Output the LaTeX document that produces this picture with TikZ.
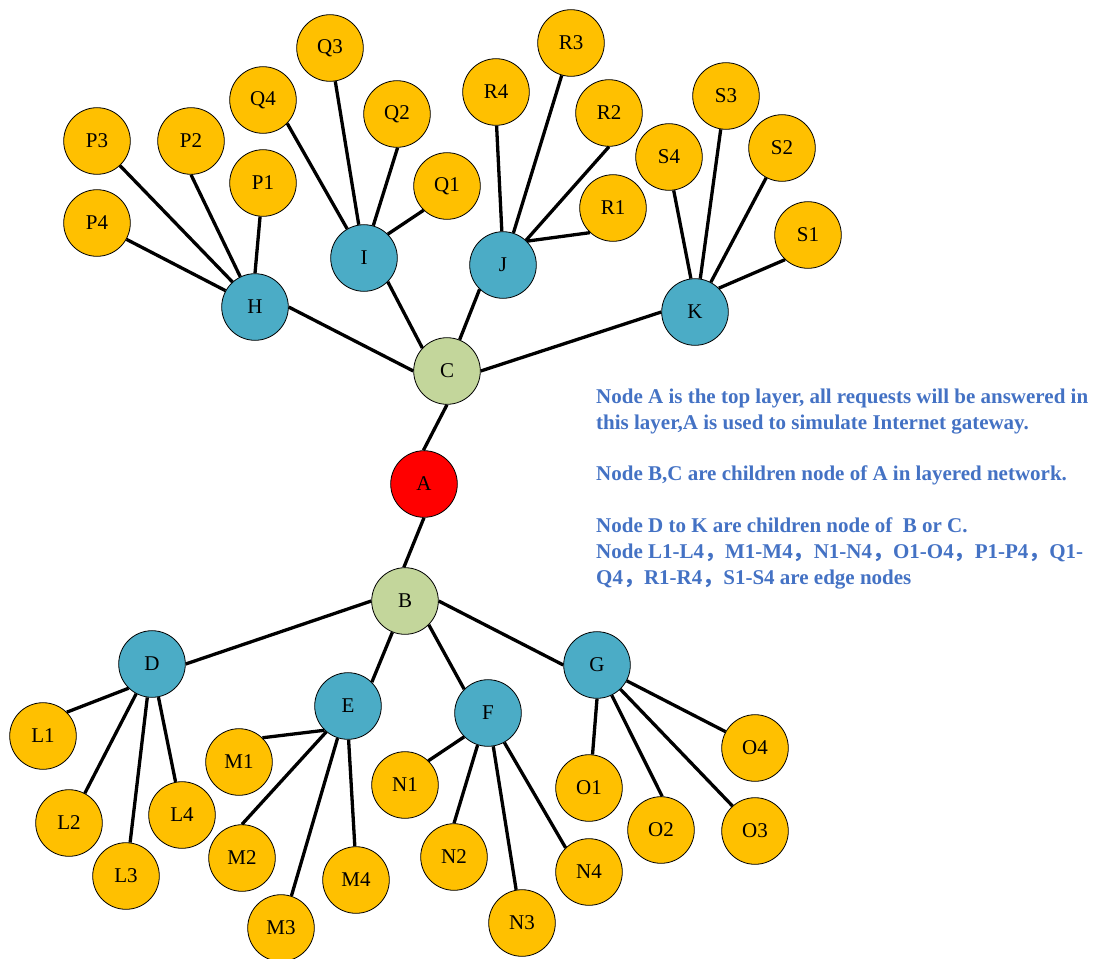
\documentclass[tikz,border=0pt]{standalone}
\usepackage{fontspec}
\setmainfont{Liberation Serif}
\newfontfamily\cjkfont{Noto Sans CJK SC}
\definecolor{leafc}{HTML}{FFC000}
\definecolor{midc}{HTML}{4BACC6}
\definecolor{hubc}{HTML}{C3D69B}
\definecolor{rootc}{HTML}{FF0000}
\definecolor{textc}{HTML}{4472C4}
\newcommand{\fwc}{{\cjkfont ，}}
\begin{document}
\begin{tikzpicture}[x=1pt,y=-1pt,
  nd/.style={circle, draw=black, line width=0.8pt, minimum size=66.6pt, inner sep=0pt, font=\fontsize{21}{25}\selectfont},
  leaf/.style={nd, fill=leafc},
  mid/.style={nd, fill=midc},
  hub/.style={nd, fill=hubc},
  root/.style={nd, fill=rootc},
  edge/.style={line width=3.3pt, draw=black},
  note/.style={anchor=base west, inner sep=0pt, text=textc, font=\fontsize{21}{26}\selectfont\bfseries}]
\useasboundingbox (0,0) rectangle (1099,958);

% core
\node[root] (A) at (424,484) {A};
\node[hub]  (B) at (405,601) {B};
\node[hub]  (C) at (447,371) {C};
% middle layer
\node[mid] (D) at (152,664) {D};
\node[mid] (E) at (348,706) {E};
\node[mid] (F) at (488,713) {F};
\node[mid] (G) at (597,665) {G};
\node[mid] (H) at (255,307) {H};
\node[mid] (I) at (364,258) {I};
\node[mid] (J) at (503,265) {J};
\node[mid] (K) at (695,312) {K};
% leaves
\node[leaf] (L1) at (43,736) {L1};
\node[leaf] (L2) at (69,823) {L2};
\node[leaf] (L3) at (126,876) {L3};
\node[leaf] (L4) at (182,815) {L4};
\node[leaf] (M1) at (239,762) {M1};
\node[leaf] (M2) at (242,858) {M2};
\node[leaf] (M3) at (281,928) {M3};
\node[leaf] (M4) at (356,880) {M4};
\node[leaf] (N1) at (405,785) {N1};
\node[leaf] (N2) at (454,857) {N2};
\node[leaf] (N3) at (522,923) {N3};
\node[leaf] (N4) at (589,872) {N4};
\node[leaf] (O1) at (589,788) {O1};
\node[leaf] (O2) at (661,830) {O2};
\node[leaf] (O3) at (755,831) {O3};
\node[leaf] (O4) at (755,748) {O4};
\node[leaf] (P1) at (263,183) {P1};
\node[leaf] (P2) at (191,141) {P2};
\node[leaf] (P3) at (97,141) {P3};
\node[leaf] (P4) at (97,223) {P4};
\node[leaf] (Q1) at (447,186) {Q1};
\node[leaf] (Q2) at (397,114) {Q2};
\node[leaf] (Q3) at (330,48) {Q3};
\node[leaf] (Q4) at (263,100) {Q4};
\node[leaf] (R1) at (613,208) {R1};
\node[leaf] (R2) at (609,113) {R2};
\node[leaf] (R3) at (571,43) {R3};
\node[leaf] (R4) at (496,92) {R4};
\node[leaf] (S1) at (808,235) {S1};
\node[leaf] (S2) at (782,148) {S2};
\node[leaf] (S3) at (726,96) {S3};
\node[leaf] (S4) at (669,157) {S4};

% edges
\draw[edge] (C.270) -- (A.91);
\draw[edge] (A.270) -- (B.92);
\draw[edge] (B.180) -- (D.0);
\draw[edge] (B.248) -- (E.45);
\draw[edge] (B.315) -- (F.135);
\draw[edge] (B.0) -- (G.180);
\draw[edge] (C.180) -- (H.0);
\draw[edge] (C.137) -- (I.315);
\draw[edge] (C.68) -- (J.226);
\draw[edge] (C.0) -- (K.180);
\draw[edge] (D.226) -- (L1.45);
\draw[edge] (D.242) -- (L2.62);
\draw[edge] (D.262) -- (L3.83);
\draw[edge] (D.281) -- (L4.101);
\draw[edge] (E.226) -- (M1.46);
\draw[edge] (E.230) -- (M2.90);
\draw[edge] (E.252) -- (M3.72);
\draw[edge] (E.271) -- (M4.92);
\draw[edge] (F.225) -- (N1.46);
\draw[edge] (F.252) -- (N2.90);
\draw[edge] (F.279) -- (N3.100);
\draw[edge] (F.299) -- (N4.134);
\draw[edge] (G.270) -- (O1.84);
\draw[edge] (G.296) -- (O2.88);
\draw[edge] (G.314) -- (O3.132);
\draw[edge] (G.332) -- (O4.151);
\draw[edge] (H.90) -- (P1.265);
\draw[edge] (H.116) -- (P2.270);
\draw[edge] (H.132) -- (P3.313);
\draw[edge] (H.151) -- (P4.331);
\draw[edge] (I.45) -- (Q1.226);
\draw[edge] (I.74) -- (Q2.271);
\draw[edge] (I.99) -- (Q3.279);
\draw[edge] (I.120) -- (Q4.316);
\draw[edge] (J.45) -- (R1.227);
\draw[edge] (J.47) -- (R2.270);
\draw[edge] (J.72) -- (R3.254);
\draw[edge] (J.92) -- (R4.271);
\draw[edge] (K.45) -- (S1.227);
\draw[edge] (K.62) -- (S2.242);
\draw[edge] (K.81) -- (S3.261);
\draw[edge] (K.97) -- (S4.278);

% notes
\node[note] (t1) at (596,403.3) {Node A is the top layer, all requests will be answered in};
\node[note] (t2) at (596,429.5) {this layer,A is used to simulate Internet gateway.};
\node[note] (t3) at (596,480) {Node B,C are children node of A in layered network.};
\node[note] (t4) at (596,532.3) {Node D to K are children node of \ B or C.};
\node[note] (t5) at (596,558) {Node L1-L4\fwc M1-M4\fwc N1-N4\fwc O1-O4\fwc P1-P4\fwc Q1-};
\node[note] (t6) at (596,584.5) {Q4\fwc R1-R4\fwc S1-S4 are edge nodes};
\end{tikzpicture}
\end{document}
